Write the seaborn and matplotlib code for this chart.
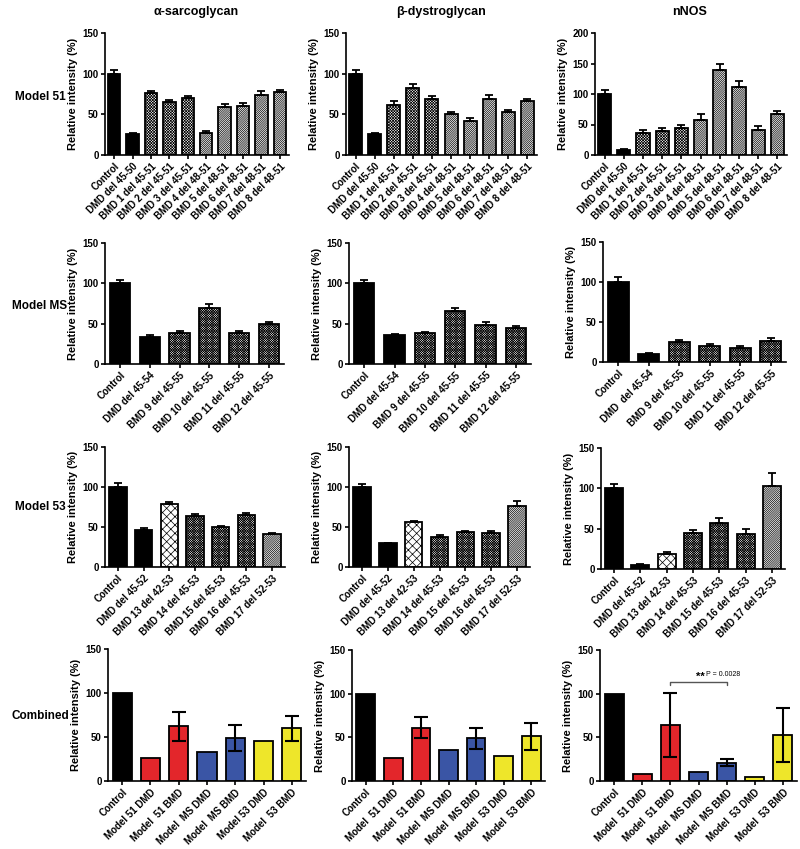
import numpy as np
import matplotlib
matplotlib.use('Agg')
import matplotlib.pyplot as plt
import seaborn as sns

sns.set_style('white')
plt.rcParams['font.family'] = ['Liberation Sans', 'DejaVu Sans']
plt.rcParams['font.weight'] = 'bold'
plt.rcParams['hatch.linewidth'] = 0.5
for k in ['text.color', 'axes.labelcolor', 'xtick.color', 'ytick.color']:
    plt.rcParams[k] = 'black'

# ---- data ----
labels_51 = ['Control', 'DMD del 45-50', 'BMD 1 del 45-51', 'BMD 2 del 45-51', 'BMD 3 del 45-51',
             'BMD 4 del 48-51', 'BMD 5 del 48-51', 'BMD 6 del 48-51', 'BMD 7 del 48-51', 'BMD 8 del 48-51']
sarco_51 = [100, 26, 76, 65, 70, 27, 59, 60, 74, 77]
sarco_51_err = [5, 1.5, 3, 3, 3, 2, 4, 4, 5, 2.5]
dystro_51 = [100, 26, 62, 82, 69, 50, 42, 69, 53, 66]
dystro_51_err = [4, 1.5, 4, 5, 3.5, 3, 3.5, 5, 2.5, 3]
nnos_51 = [100, 8, 36, 40, 45, 58, 139, 112, 41, 68]
nnos_51_err = [6, 2, 5, 4, 5, 10, 10, 9, 6, 4]

labels_ms = ['Control', 'DMD del 45-54', 'BMD 9 del 45-55', 'BMD 10 del 45-55', 'BMD 11 del 45-55', 'BMD 12 del 45-55']
labels_ms_nnos = ['Control', 'DMD  del 45-54', 'BMD 9 del 45-55', 'BMD 10 del 45-55', 'BMD 11 del 45-55', 'BMD 12 del 45-55']
sarco_ms = [100, 34, 38, 70, 39, 50]
sarco_ms_err = [4.5, 1.5, 2.5, 4, 2, 2.5]
dystro_ms = [100, 36, 38, 66, 48.5, 45]
dystro_ms_err = [4, 1.5, 2, 4, 3.5, 2]
nnos_ms = [100, 10, 24.5, 19.5, 17, 26.5]
nnos_ms_err = [6, 1.5, 2.5, 3, 3, 4]

labels_53 = ['Control', 'DMD del 45-52', 'BMD 13 del 42-53', 'BMD 14 del 45-53', 'BMD 15 del 45-53',
             'BMD 16 del 45-53', 'BMD 17 del 52-53']
sarco_53 = [100, 46, 78.5, 64, 49.5, 65, 41]
sarco_53_err = [5, 2.5, 3, 2, 1.5, 2.5, 2]
dystro_53 = [100, 29.5, 56, 38, 44, 43, 76]
dystro_53_err = [4, 1, 2, 1.5, 1.5, 1.5, 6.5]
nnos_53 = [100, 5, 18, 45, 57, 44, 103]
nnos_53_err = [5, 1, 3, 3.5, 6, 5.5, 16]

labels_comb_a = ['Control', 'Model 51 DMD', 'Model  51 BMD', 'Model  MS DMD', 'Model  MS BMD', 'Model 53 DMD', 'Model  53 BMD']
labels_comb = ['Control', 'Model  51 DMD', 'Model  51 BMD', 'Model  MS DMD', 'Model  MS BMD', 'Model  53 DMD', 'Model  53 BMD']
sarco_comb = [100, 26, 62, 33.5, 49, 46, 60]
sarco_comb_err = [0, 0, 16, 0, 15, 0, 14]
dystro_comb = [100, 26, 61, 36, 49, 29, 51]
dystro_comb_err = [0, 0, 12, 0, 12, 0, 15]
nnos_comb = [100, 8, 64, 10, 21, 5, 53]
nnos_comb_err = [0, 0, 36.5, 0, 4, 0, 31]

col_titles = ['α-sarcoglycan', 'β-dystroglycan', 'nNOS']
row_titles = ['Model 51', 'Model MS', 'Model 53', 'Combined']

# ---- style ----
RED, BLUE, YELLOW = '#e3262b', '#3a55a5', '#eee62a'
comb_colors = ['black', RED, RED, BLUE, BLUE, YELLOW, YELLOW]
CROSS, DIAG, CHECK, COARSE = 'x' * 12, '/' * 16, 'x' * 14, 'xxxx'
hatch_51 = [None, None, CROSS, CROSS, CROSS, DIAG, DIAG, DIAG, DIAG, DIAG]
hatch_ms = [None, None, CHECK, CHECK, CHECK, CHECK]
hatch_53 = [None, None, COARSE, CHECK, CHECK, CHECK, DIAG]

panels = [
    [(labels_51, sarco_51, sarco_51_err, 150), (labels_51, dystro_51, dystro_51_err, 150), (labels_51, nnos_51, nnos_51_err, 200)],
    [(labels_ms, sarco_ms, sarco_ms_err, 150), (labels_ms, dystro_ms, dystro_ms_err, 150), (labels_ms_nnos, nnos_ms, nnos_ms_err, 150)],
    [(labels_53, sarco_53, sarco_53_err, 150), (labels_53, dystro_53, dystro_53_err, 150), (labels_53, nnos_53, nnos_53_err, 150)],
    [(labels_comb_a, sarco_comb, sarco_comb_err, 150), (labels_comb, dystro_comb, dystro_comb_err, 150), (labels_comb, nnos_comb, nnos_comb_err, 150)],
]
hatches = [hatch_51, hatch_ms, hatch_53, None]

# axes boxes in pixels: left, right, top, bottom
boxes = [
    [(105, 289, 33, 155), (346, 537, 33, 155), (595, 787, 33, 155)],
    [(105, 284, 243, 364), (349, 531, 243, 364), (603, 786, 242, 362)],
    [(105, 285, 447, 567), (349, 530, 447, 567), (601, 785, 448, 569)],
    [(108, 306, 649, 781), (352, 545, 650, 781), (600, 797, 650, 781)],
]

W, H = 800, 849
fig = plt.figure(figsize=(W / 100, H / 100), dpi=100)

for r in range(4):
    for c in range(3):
        labels, vals, errs, ymax = panels[r][c]
        l, rr, t, b = boxes[r][c]
        ax = fig.add_axes([l / W, 1 - b / H, (rr - l) / W, (b - t) / H])
        n = len(vals)
        if r < 3:
            cols = ['black', 'black'] + ['white'] * (n - 2)
        else:
            cols = comb_colors
        sns.barplot(x=labels, y=vals, hue=labels, palette=cols, legend=False, ax=ax,
                    width=0.68, edgecolor='black', linewidth=1.3, errorbar=None, saturation=1)
        if r < 3:
            for p, h in zip(ax.patches, hatches[r]):
                if h:
                    p.set_hatch(h)
        x = np.arange(n)
        errs = np.array(errs, dtype=float)
        vals_a = np.array(vals, dtype=float)
        if r < 3:
            ax.errorbar(x, vals_a, yerr=[np.zeros(n), errs], fmt='none', ecolor='black',
                        elinewidth=1.3, capsize=3, capthick=1.3, zorder=1)
        else:
            m = errs > 0
            ax.errorbar(x[m], vals_a[m], yerr=errs[m], fmt='none', ecolor='black',
                        elinewidth=1.5, capsize=5, capthick=1.5, zorder=5)
        ax.set_xlim(-0.5, n - 0.5)
        ax.set_ylim(0, ymax)
        ax.set_yticks(np.arange(0, ymax + 1, 50))
        sns.despine(ax=ax)
        for s in ['left', 'bottom']:
            ax.spines[s].set_linewidth(1.2)
            ax.spines[s].set_color('black')
        ax.tick_params(axis='both', direction='out', length=3, width=1.2, color='black',
                       labelsize=7, pad=1.5, bottom=True, left=True)
        ax.set_xticks(x)
        ax.set_xticklabels(labels, rotation=45, ha='right', rotation_mode='anchor', fontweight='bold')
        for tl in ax.get_yticklabels():
            tl.set_fontweight('bold')
        ax.set_xlabel('')
        ax.set_ylabel('Relative intensity (%)', fontsize=8, fontweight='bold', labelpad=3)
        if r == 3 and c == 2:
            ax.plot([2, 2, 4, 4], [110, 113, 113, 110], color='#555555', lw=1)
            ax.text(3.05, 114, '**', ha='center', va='bottom', fontsize=8, fontweight='bold')
            ax.text(3.25, 118, 'P = 0.0028', ha='left', va='bottom', fontsize=5, fontweight='normal')

col_x = [196, 441, 690]
for c, t in enumerate(col_titles):
    fig.text(col_x[c] / W, 1 - 12 / H, t, ha='center', va='center', fontsize=9, fontweight='bold')
row_y = [97, 306, 507, 716]
for r, t in enumerate(row_titles):
    fig.text(40 / W, 1 - row_y[r] / H, t, ha='center', va='center', fontsize=8.5, fontweight='bold')

fig.savefig('out.png', dpi=100)
